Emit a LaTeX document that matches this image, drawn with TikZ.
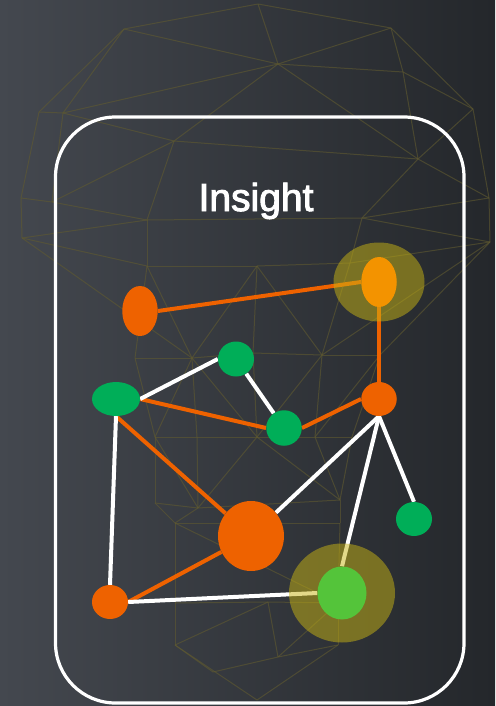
\documentclass[tikz,border=0pt]{standalone}
\usepackage{fontspec}
\newfontfamily\titlefont[FakeBold=2.4]{Liberation Sans}
\usetikzlibrary{shapes.geometric}
\pgfdeclarelayer{bgl}
\pgfdeclarelayer{edgel}
\pgfdeclarelayer{halol}
\pgfsetlayers{bgl,edgel,halol,main}
\definecolor{bgA}{RGB}{68,72,79}
\definecolor{bgB}{RGB}{36,39,43}
\definecolor{meshc}{RGB}{96,90,48}
\definecolor{orA}{RGB}{238,98,0}
\definecolor{orB}{RGB}{243,147,0}
\definecolor{grA}{RGB}{0,174,88}
\definecolor{grB}{RGB}{84,196,58}
\definecolor{haloc}{RGB}{200,180,20}
\tikzset{
  dot/.style={ellipse, inner sep=0pt, draw=none},
  halo/.style={ellipse, inner sep=0pt, draw=none, fill=haloc, fill opacity=0.5},
  oline/.style={draw=orA, line width=4pt},
  wline/.style={draw=white, line width=4pt},
  meshline/.style={draw=meshc, line width=1pt, draw opacity=0.6},
}
\begin{document}
\begin{tikzpicture}[x=1pt,y=-1pt]
\useasboundingbox (0,0) rectangle (495,706);
\begin{pgfonlayer}{bgl}
\shade[left color=bgA, right color=bgB] (0,0) rectangle (495,706);
% mesh vertices
\foreach \n/\px/\py in {ma/258/4, mb/124/29, mc/391/28, md/278/64, mg/403/72, me/39/112, mf/63/113, mh/473/109, mi/174/141, mj/418/159, mk/21/198, ml/52/202, mm/489/198, mn/147/220, mo/362/218, mp/22/238, mq/147/266, mt/257/266, mtt/350/263, ms/490/242, mv/135/358, mr/192/358, mrr/253/353, mu/322/355, muu/380/355, mw/155/437, mx/197/437, my/257/437, mz/315/437, mzz/352/437, mwa/155/503, mxa/198/508, mza/340/500, mna/175/523, mnb/340/523, mca/175/603, mcb/268/602, mcc/338/603, mda/175/645, mdb/338/645, mea/213/672, meb/278/657, mbt/257/700}
  \coordinate (\n) at (\px,\py);
\foreach \u/\v in {ma/mb, ma/mc, ma/md, mb/md, mc/md, mc/mg, md/mg, mc/mh, mg/mh, mb/me, mb/mf, me/mf, md/mf, md/mi, md/mj, mg/mj, mh/mj, mh/mm, mj/mm, mf/mi, me/mk, mf/ml, mk/ml, mi/ml, mi/mn, mi/mj, ml/mn, mj/mo, mo/mm, mn/mo, mk/mp, mp/mn, mp/mq, mn/mq, mq/mt, mt/mtt, mtt/ms, mo/mtt, mm/ms, mo/ms, mp/mr, mq/mv, mq/mr, mt/mr, mt/mrr, mt/mu, mtt/mu, ms/mu, ms/muu, mv/mr, mr/mrr, mrr/mu, mu/muu, mv/mw, mr/mw, mr/mx, mr/my, mrr/my, mu/my, mu/mz, muu/mz, muu/mzz, mw/mx, mx/my, my/mz, mz/mzz, mw/mwa, mx/mxa, mw/mxa, my/mxa, my/mza, mz/mza, mzz/mza, mwa/mxa, mxa/mza, mwa/mna, mza/mnb, mxa/mna, mna/mnb, mna/mca, mnb/mcc, mna/mcc, mca/mcb, mcb/mcc, mca/mda, mcc/mdb, mda/mbt, mdb/mbt, mda/mcb, mcb/meb, meb/mdb, mea/meb, mda/mea, meb/mcc}
  \draw[meshline] (\u) -- (\v);
\end{pgfonlayer}
% frame and title
\draw[white, line width=3.2pt, rounded corners=60pt] (55.5,117) rectangle (464,703);
\node[anchor=base, text=white, inner sep=0pt] (title) at (256,211) {\titlefont\fontsize{39}{46}\selectfont Insight};
% nodes
\node[dot, fill=orA, minimum width=35.5pt, minimum height=50pt] (o1) at (140,311) {};
\node[dot, fill=orB, minimum width=35.5pt, minimum height=50pt] (o2) at (379,282) {};
\node[dot, fill=grA, minimum width=36pt, minimum height=35pt] (g1) at (236,359) {};
\node[dot, fill=grA, minimum width=48pt, minimum height=34pt] (g2) at (116,399) {};
\node[dot, fill=grA, minimum width=35.5pt, minimum height=35.5pt] (g3) at (284,428) {};
\node[dot, fill=orA, minimum width=35.5pt, minimum height=34pt] (o3) at (379,399) {};
\node[dot, fill=grA, minimum width=36pt, minimum height=34pt] (g4) at (414,519) {};
\node[dot, fill=orA, minimum width=66pt, minimum height=70pt] (o4) at (251,536) {};
\node[dot, fill=orA, minimum width=36pt, minimum height=34pt] (o5) at (110,602) {};
\node[dot, fill=grB, minimum width=49pt, minimum height=53pt] (lg) at (342,593) {};
\begin{pgfonlayer}{halol}
\node[halo, minimum width=91pt, minimum height=79pt] (h1) at (o2.center) {};
\node[halo, minimum width=106pt, minimum height=99pt] (h2) at (lg.center) {};
\end{pgfonlayer}
\begin{pgfonlayer}{edgel}
\draw[oline] (o1.east) -- (o2.west);
\draw[oline] (o2.south) -- (o3.north);
\draw[oline] (g2.east) -- (g3.west);
\draw[oline] (g3.east) -- (o3.west);
\draw[oline] (g2.south) -- (o4);
\draw[oline] (o5.east) -- (o4);
\draw[wline] (g2.east) -- (g1.west);
\draw[wline] (g1) -- (g3);
\draw[wline] (g2.south) -- (o5.north);
\draw[wline] (o3.south) -- (o4);
\draw[wline] (o3.south) -- (g4.north);
\draw[wline] (o3.south) -- (lg.north);
\draw[wline] (o5.east) -- (lg.west);
\end{pgfonlayer}
\end{tikzpicture}
\end{document}
